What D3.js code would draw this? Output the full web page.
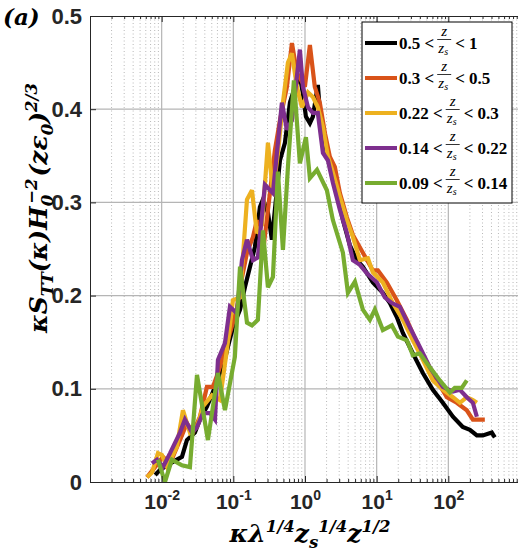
<!DOCTYPE html>
<html>
<head>
<meta charset="utf-8">
<script src="https://cdn.jsdelivr.net/npm/d3@7"></script>
<style>
  body { margin: 0; background: #fff; }
  svg { display: block; }
</style>
</head>
<body>
<script>
const width = 518, height = 552;
const margin = {top: 16, right: -2, bottom: 70, left: 90};
const plotW = width - margin.left - margin.right;
const plotH = height - margin.top - margin.bottom;

// legend labels (lower / upper bound of z/z_s)
const binLow = ["0.5", "0.3", "0.22", "0.14", "0.09"];
const binHigh = ["1", "0.5", "0.3", "0.22", "0.14"];

// tick values
const xTicks = [1e-2, 1e-1, 1, 10, 100];
const xTickExp = ["-2", "-1", "0", "1", "2"];
const yTicks = [0, 0.1, 0.2, 0.3, 0.4, 0.5];
const yTickLabels = ["0", "0.1", "0.2", "0.3", "0.4", "0.5"];

// spectra, [k, value]
const bin05to1 = [[0.0081,0.0075],[0.0095,0.013],[0.0119,0.018],[0.0163,0.024],[0.0192,0.027],[0.0225,0.045],[0.0291,0.053],[0.0342,0.067],[0.0428,0.081],[0.0554,0.102],[0.065,0.117],[0.0716,0.123],[0.0841,0.145],[0.0987,0.166],[0.124,0.185],[0.145,0.209],[0.200,0.252],[0.235,0.295],[0.259,0.303],[0.304,0.289],[0.345,0.260],[0.380,0.292],[0.447,0.345],[0.525,0.364],[0.616,0.407],[0.723,0.424],[0.849,0.435],[0.935,0.417],[1.03,0.392],[1.17,0.385],[1.29,0.392],[1.51,0.426],[1.61,0.399],[1.78,0.378],[2.02,0.353],[2.37,0.335],[2.79,0.313],[3.38,0.281],[4.23,0.254],[5.29,0.238],[6.42,0.231],[8.85,0.214],[12.2,0.203],[15.3,0.192],[19.1,0.177],[23.2,0.160],[32.0,0.138],[44.1,0.117],[60.8,0.099],[83.8,0.085],[116,0.070],[159,0.059],[200,0.056],[250,0.050],[303,0.050],[404,0.053],[445,0.048]];
const bin03to05 = [[0.00624,0.005],[0.00807,0.016],[0.0104,0.027],[0.0131,0.020],[0.018,0.045],[0.0225,0.063],[0.0273,0.053],[0.0342,0.070],[0.0428,0.102],[0.0519,0.102],[0.061,0.117],[0.0716,0.134],[0.0897,0.160],[0.112,0.185],[0.124,0.209],[0.155,0.246],[0.188,0.263],[0.213,0.281],[0.259,0.246],[0.324,0.310],[0.380,0.356],[0.447,0.388],[0.559,0.424],[0.657,0.471],[0.771,0.439],[0.997,0.424],[1.17,0.469],[1.37,0.424],[1.61,0.407],[1.90,0.374],[2.22,0.349],[2.61,0.338],[3.07,0.310],[3.84,0.284],[4.66,0.265],[6.42,0.246],[8.85,0.227],[10.4,0.227],[13.9,0.214],[19.1,0.195],[26.4,0.174],[36.4,0.149],[50.1,0.128],[69.1,0.109],[95.3,0.091],[131,0.085],[181,0.077],[220,0.067],[323,0.067]];
const bin022to03 = [[0.00624,0.005],[0.00732,0.010],[0.00888,0.031],[0.0101,0.029],[0.0119,0.016],[0.0163,0.038],[0.0198,0.077],[0.0248,0.053],[0.0311,0.059],[0.0377,0.081],[0.0503,0.093],[0.065,0.088],[0.0814,0.142],[0.0987,0.195],[0.124,0.198],[0.155,0.303],[0.182,0.313],[0.213,0.267],[0.251,0.276],[0.304,0.364],[0.357,0.310],[0.419,0.353],[0.492,0.407],[0.578,0.450],[0.657,0.460],[0.771,0.424],[0.905,0.402],[1.10,0.418],[1.29,0.413],[1.51,0.402],[1.78,0.381],[2.09,0.349],[2.45,0.332],[3.07,0.306],[3.84,0.281],[4.66,0.263],[5.83,0.238],[7.54,0.240],[8.85,0.225],[12.2,0.214],[16.8,0.192],[23.2,0.174],[32.0,0.152],[44.1,0.131],[60.8,0.109],[83.8,0.099],[116,0.091],[145,0.085],[181,0.091],[220,0.088],[250,0.085]];
const bin014to022 = [[0.00732,0.020],[0.0086,0.024],[0.0104,0.016],[0.0131,0.031],[0.018,0.053],[0.0211,0.067],[0.0265,0.053],[0.0311,0.059],[0.0377,0.074],[0.0472,0.074],[0.0554,0.067],[0.061,0.131],[0.0764,0.149],[0.0897,0.188],[0.112,0.181],[0.132,0.238],[0.155,0.260],[0.188,0.238],[0.220,0.241],[0.276,0.319],[0.357,0.310],[0.476,0.407],[0.559,0.378],[0.657,0.388],[0.849,0.464],[0.935,0.424],[1.10,0.402],[1.29,0.396],[1.51,0.396],[1.78,0.353],[2.09,0.345],[2.45,0.321],[3.07,0.292],[3.84,0.267],[4.66,0.238],[5.83,0.233],[7.30,0.224],[10.1,0.214],[13.0,0.198],[16.3,0.192],[21.1,0.188],[29.0,0.166],[40.0,0.145],[55.2,0.123],[83.8,0.102],[116,0.097],[145,0.099],[181,0.091],[220,0.085],[250,0.070]];
const bin009to014 = [[0.00888,0.024],[0.0111,0.0],[0.0139,0.024],[0.0192,0.018],[0.0248,0.016],[0.0311,0.115],[0.0442,0.045],[0.061,0.117],[0.0764,0.077],[0.105,0.134],[0.124,0.231],[0.155,0.171],[0.182,0.168],[0.220,0.174],[0.259,0.270],[0.304,0.209],[0.357,0.220],[0.419,0.333],[0.492,0.249],[0.578,0.338],[0.700,0.431],[0.849,0.342],[1.03,0.370],[1.17,0.326],[1.47,0.335],[2.02,0.313],[2.45,0.281],[3.38,0.246],[3.97,0.203],[4.97,0.215],[6.42,0.185],[8.04,0.174],[9.44,0.185],[12.2,0.163],[16.3,0.168],[19.8,0.156],[26.4,0.152],[32.0,0.136],[40.0,0.138],[55.2,0.123],[76.1,0.109],[105,0.096],[123,0.101],[154,0.101],[181,0.109]];

const allSeries = [bin05to1, bin03to05, bin022to03, bin014to022, bin009to014];
const colors = ["#000000", "#D95319", "#EDB120", "#7E2F8E", "#77AC30"];

const mathFont = "'DejaVu Serif', serif";
const legendFont = "'Liberation Serif', serif";
const tickFont = "'Liberation Sans', Arial, sans-serif";

// create SVG canvas
const svg = d3.select("body")
              .append("svg")
              .attr("width", width)
              .attr("height", height);

const g = svg.append("g")
             .attr("transform", "translate(" + margin.left + "," + margin.top + ")");

const xScale = d3.scaleLog().domain([1e-3, 1e3]).range([0, plotW]);
const yScale = d3.scaleLinear().domain([0, 0.5]).range([plotH, 0]);

// minor grid (dotted), from the log scale's own ticks
const minor = xScale.ticks().filter(v => Math.abs(Math.log10(v) - Math.round(Math.log10(v))) > 1e-6);
g.selectAll(".minor-grid")
 .data(minor)
 .enter()
 .append("line")
 .attr("class", "minor-grid")
 .attr("x1", d => xScale(d)).attr("x2", d => xScale(d))
 .attr("y1", 0).attr("y2", plotH)
 .attr("stroke", "#b8b8b8")
 .attr("stroke-width", 1)
 .attr("stroke-dasharray", "1,2.5");

// major grid
g.selectAll(".xgrid")
 .data(xTicks)
 .enter()
 .append("line")
 .attr("x1", d => xScale(d)).attr("x2", d => xScale(d))
 .attr("y1", 0).attr("y2", plotH)
 .attr("stroke", "#b5b5b5")
 .attr("stroke-width", 1.2);

g.selectAll(".ygrid")
 .data(yTicks.slice(1, -1))
 .enter()
 .append("line")
 .attr("x1", 0).attr("x2", plotW)
 .attr("y1", d => yScale(d)).attr("y2", d => yScale(d))
 .attr("stroke", "#b5b5b5")
 .attr("stroke-width", 1.2);

// data lines
svg.append("clipPath").attr("id", "clip")
   .append("rect").attr("width", plotW).attr("height", plotH + 2).attr("y", -1);

const line = d3.line()
               .x(d => xScale(d[0]))
               .y(d => yScale(d[1]));

g.append("g")
 .attr("clip-path", "url(#clip)")
 .selectAll(".spec")
 .data(allSeries)
 .enter()
 .append("path")
 .attr("class", "spec")
 .attr("d", line)
 .attr("fill", "none")
 .attr("stroke", (d, i) => colors[i])
 .attr("stroke-width", 4.2)
 .attr("stroke-linejoin", "miter")
 .attr("stroke-miterlimit", 3);

// axes: bottom with labels, top with ticks only
const xAxis = d3.axisBottom(xScale)
                .tickValues(xTicks)
                .tickSizeInner(-6)
                .tickSizeOuter(0)
                .tickFormat("");
const bx = g.append("g")
            .attr("transform", "translate(0," + plotH + ")")
            .call(xAxis);
bx.select(".domain").attr("stroke", "#262626");
bx.selectAll(".tick line").attr("stroke", "#262626");

// x tick labels 10^n
bx.selectAll(".tick")
  .append("text")
  .attr("y", 27)
  .attr("fill", "#262626")
  .attr("text-anchor", "middle")
  .style("font-family", tickFont)
  .style("font-weight", "bold")
  .style("font-size", "21px")
  .each(function(d, i) {
      const t = d3.select(this);
      t.append("tspan").text("10");
      t.append("tspan").attr("dy", -9).style("font-size", "14px").text(xTickExp[i]);
  });

const minorTickAxis = (axis) => axis.tickValues(minor).tickSizeInner(-3).tickSizeOuter(0).tickFormat("");
const bm = g.append("g")
            .attr("transform", "translate(0," + plotH + ")")
            .call(minorTickAxis(d3.axisBottom(xScale)));
bm.select(".domain").remove();
bm.selectAll(".tick line").attr("stroke", "#262626");

const tx = g.append("g")
            .call(d3.axisTop(xScale).tickValues(xTicks).tickSizeInner(-6).tickSizeOuter(0).tickFormat(""));
tx.select(".domain").attr("stroke", "#262626");
tx.selectAll(".tick line").attr("stroke", "#262626");
const tm = g.append("g")
            .call(minorTickAxis(d3.axisTop(xScale)));
tm.select(".domain").remove();
tm.selectAll(".tick line").attr("stroke", "#262626");

// y axis
const yAxis = d3.axisLeft(yScale)
                .tickValues(yTicks)
                .tickSizeInner(-6)
                .tickSizeOuter(0)
                .tickPadding(8)
                .tickFormat((d, i) => yTickLabels[i]);
const ly = g.append("g").call(yAxis);
ly.select(".domain").attr("stroke", "#262626");
ly.selectAll(".tick line").attr("stroke", "#262626");
ly.selectAll(".tick text")
  .attr("fill", "#262626")
  .style("font-family", tickFont)
  .style("font-weight", "bold")
  .style("font-size", "22px");

// rich text helper (subscripts / superscripts via dy)
function richText(sel, parts, size) {
    let shift = 0;
    parts.forEach(p => {
        const off = p.sub ? size * 0.22 : (p.sup ? -size * 0.42 : 0);
        const ts = sel.append("tspan")
                      .attr("dy", off - shift)
                      .style("font-size", (p.sub || p.sup) ? (size * 0.66) + "px" : size + "px")
                      .text(p.t);
        if (p.dx) ts.attr("dx", p.dx);
        shift = off;
    });
}

// y label
const yl = svg.append("text")
              .attr("transform", "translate(47,208) rotate(-90)")
              .attr("text-anchor", "middle")
              .attr("fill", "#000")
              .style("font-family", mathFont)
              .style("font-weight", "bold")
              .style("font-style", "italic");
richText(yl, [
    {t: "κS"}, {t: "TT", sub: true}, {t: "(κ)H"}, {t: "0", sub: true},
    {t: "−2", sup: true, dx: -9}, {t: "(zε", dx: 2}, {t: "0", sub: true}, {t: ")"}, {t: "2/3", sup: true}
], 25);

// x label
const xl = svg.append("text")
              .attr("x", 310)
              .attr("y", 542)
              .attr("text-anchor", "middle")
              .attr("fill", "#000")
              .style("font-family", mathFont)
              .style("font-weight", "bold")
              .style("font-style", "italic");
richText(xl, [
    {t: "κλ"}, {t: "1/4", sup: true}, {t: "z"}, {t: "s", sub: true},
    {t: "1/4", sup: true}, {t: "z"}, {t: "1/2", sup: true}
], 25);

// panel tag
svg.append("text")
   .attr("x", 3)
   .attr("y", 25)
   .style("font-family", mathFont)
   .style("font-weight", "bold")
   .style("font-style", "italic")
   .style("font-size", "23px")
   .text("(a)");

// legend
const legend = svg.append("g").attr("transform", "translate(362,22)");
legend.append("rect")
      .attr("width", 150)
      .attr("height", 181)
      .attr("fill", "#fff")
      .attr("stroke", "#000")
      .attr("stroke-width", 1);

binLow.forEach((lo, i) => {
    const cy = 21 + i * 35;
    const row = legend.append("g").attr("transform", "translate(0," + cy + ")");
    row.append("line")
       .attr("x1", 3).attr("x2", 35)
       .attr("y1", 0).attr("y2", 0)
       .attr("stroke", colors[i])
       .attr("stroke-width", 4);
    const left = row.append("text")
                    .attr("x", 37).attr("y", 6)
                    .style("font-family", legendFont)
                    .style("font-weight", "bold")
                    .style("font-size", "17px")
                    .text(lo + " <");
    const lw = left.node().getComputedTextLength();
    const fx = 37 + lw + 10;
    row.append("text")
       .attr("x", fx).attr("y", -7)
       .attr("text-anchor", "middle")
       .style("font-family", legendFont)
       .style("font-style", "italic")
       .style("font-size", "15px")
       .text("z");
    row.append("line")
       .attr("x1", fx - 7).attr("x2", fx + 7)
       .attr("y1", -3.5).attr("y2", -3.5)
       .attr("stroke", "#000").attr("stroke-width", 0.8);
    const den = row.append("text")
       .attr("x", fx - 1).attr("y", 10)
       .attr("text-anchor", "middle")
       .style("font-family", legendFont)
       .style("font-style", "italic")
       .style("font-size", "15px");
    den.append("tspan").text("z");
    den.append("tspan").attr("dy", 2).style("font-size", "10px").text("s");
    row.append("text")
       .attr("x", fx + 11).attr("y", 6)
       .style("font-family", legendFont)
       .style("font-weight", "bold")
       .style("font-size", "17px")
       .text("< " + binHigh[i]);
});
</script>
</body>
</html>
